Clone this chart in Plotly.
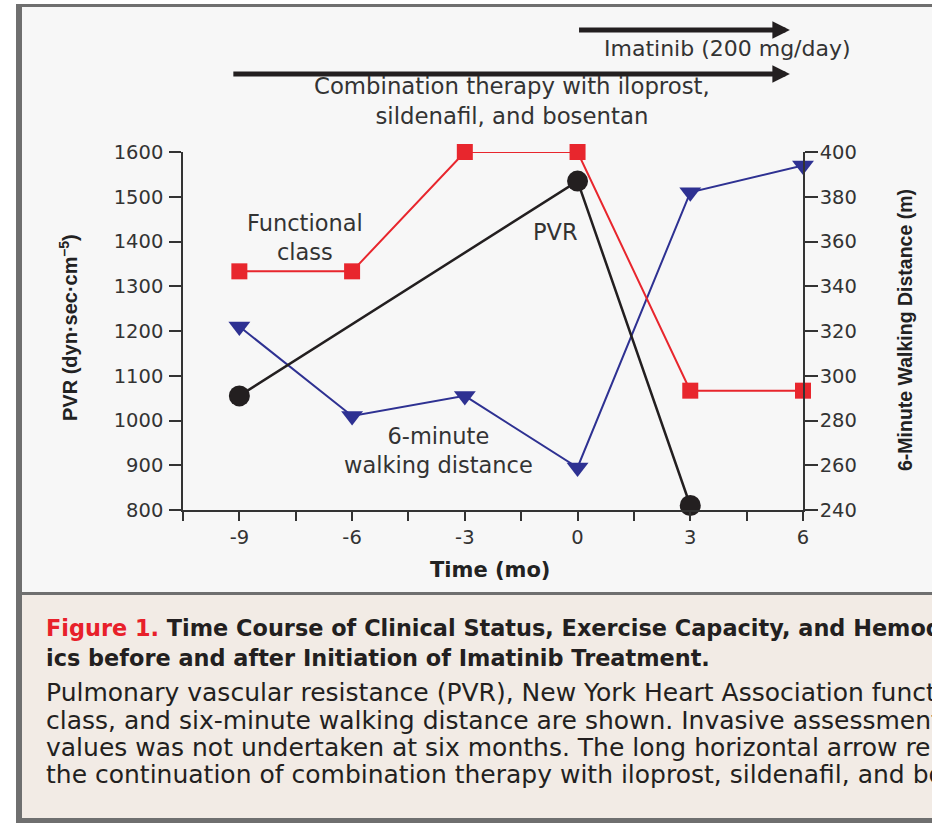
import plotly.graph_objects as go

# ---------------- data ----------------
pvr_time = [-9, 0, 3]
pvr_values = [1055, 1535, 810]                     # dyn·sec·cm^-5

fc_time = [-9, -6, -3, 0, 3, 6]
fc_values = [3, 3, 4, 4, 2, 2]                     # NYHA functional class

walk_time = [-9, -6, -3, 0, 3, 6]
walk_values = [322, 282, 291, 259, 382, 394]       # metres

x_tickvals = [-9, -6, -3, 0, 3, 6]
x_ticktext = ["-9", "-6", "-3", "0", "3", "6"]

combination_start = -9.2
imatinib_start = 0
therapy_arrow_end = 5.65

# ---------------- styling ----------------
W, H = 932, 826
L, R, T, B = 183, 129, 152, 316
PW, PH = W - L - R, H - T - B

def px(xp):
    return (xp - L) / PW

def py(yp):
    return (H - B - yp) / PH

AX = "#333333"
RED = "#e8262d"
BLK = "#231f20"
BLUE = "#2e3192"
FONT = "DejaVu Sans"
NARROW = "Liberation Sans, Arial"

fig = go.Figure()

fig.add_trace(go.Scatter(
    x=walk_time, y=walk_values, yaxis="y", mode="lines+markers",
    line=dict(color=BLUE, width=2),
    marker=dict(symbol="triangle-down", size=19, color=BLUE),
    cliponaxis=False, showlegend=False, name="6-minute walking distance"))

fig.add_trace(go.Scatter(
    x=pvr_time, y=pvr_values, yaxis="y2", mode="lines+markers",
    line=dict(color=BLK, width=2.5),
    marker=dict(symbol="circle", size=21, color=BLK),
    cliponaxis=False, showlegend=False, name="PVR"))

fig.add_trace(go.Scatter(
    x=fc_time, y=fc_values, yaxis="y3", mode="lines+markers",
    line=dict(color=RED, width=2),
    marker=dict(symbol="square", size=16, color=RED),
    cliponaxis=False, showlegend=False, name="Functional class"))

def axis_common(ticklen, standoff):
    return dict(showline=True, linecolor=AX, linewidth=1.5, ticks="outside",
                ticklen=ticklen, tickwidth=1.5, tickcolor=AX, showgrid=False,
                zeroline=False, ticklabelstandoff=standoff,
                tickfont=dict(family=FONT, size=19.5, color=AX))

fig.update_layout(
    width=W, height=H, autosize=False,
    margin=dict(l=L, r=R, t=T, b=B, pad=0),
    paper_bgcolor="white", plot_bgcolor="rgba(0,0,0,0)",
    xaxis=dict(range=[-10.5, 6], tickvals=x_tickvals, ticktext=x_ticktext,
               minor=dict(dtick=1.5, tick0=-9, ticks="outside", ticklen=9,
                          tickwidth=1.5, tickcolor=AX),
               **axis_common(9, 0)),
    yaxis=dict(range=[240, 400], dtick=20, side="right", **axis_common(13, -2)),
    yaxis2=dict(range=[800, 1600], dtick=100, side="left", overlaying="y",
                **axis_common(12, 2)),
    yaxis3=dict(range=[1, 4], overlaying="y", visible=False),
)

# background frame
shapes = [
    dict(type="rect", xref="paper", yref="paper", x0=px(16), x1=px(945),
         y0=py(823), y1=py(4), fillcolor="#6f6f6f", line=dict(width=0), layer="below"),
    dict(type="rect", xref="paper", yref="paper", x0=px(22), x1=px(945),
         y0=py(592), y1=py(7), fillcolor="#f7f7f7", line=dict(width=0), layer="below"),
    dict(type="rect", xref="paper", yref="paper", x0=px(22), x1=px(945),
         y0=py(818), y1=py(595), fillcolor="#f2ebe5", line=dict(width=0), layer="below"),
]
fig.update_layout(shapes=shapes)

ann = []

def label(xp, yp, text, font, **kw):
    d = dict(x=px(xp), y=py(yp), xref="paper", yref="paper", showarrow=False,
             xanchor="center", yanchor="middle", text=text, font=font)
    d.update(kw)
    ann.append(d)

# therapy arrows
for start, ypix in [(imatinib_start, 30), (combination_start, 74)]:
    ann.append(dict(x=therapy_arrow_end, y=py(ypix), xref="x", yref="paper",
                    ax=start, ay=0, axref="x", ayref="pixel",
                    showarrow=True, arrowhead=2, arrowsize=0.7, arrowwidth=5,
                    arrowcolor=BLK, text=""))

top_font = dict(family=FONT, size=22.8, color="#333")
label(727, 48, "Imatinib (200 mg/day)", dict(family=FONT, size=22, color="#333"))
label(512, 101, "Combination therapy with iloprost,<br>sildenafil, and bosentan", top_font)

# series labels
ser_font = dict(family=FONT, size=22.5, color="#333")
label(305, 237, "Functional<br>class", ser_font)
label(555, 232, "PVR", ser_font)
label(438, 450, "6-minute<br>walking distance", ser_font)

# axis titles
ttl = dict(family=NARROW, size=20, color="#222", weight="bold")
label(68, 328, "PVR (dyn·sec·cm<sup>–5</sup>)", ttl, textangle=-90)
label(905, 330, "6-Minute Walking Distance (m)",
      dict(family=NARROW, size=19.5, color="#222", weight="bold"), textangle=-90)
label(490, 570, "Time (mo)", dict(family=FONT, size=21, color="#222", weight="bold"))

# caption
cap_lines = [
    ("<span style='color:#e8202a'>Figure 1.</span> Time Course of Clinical Status, Exercise Capacity, and Hemodynam-", 628, True),
    ("ics before and after Initiation of Imatinib Treatment.", 658, True),
    ("Pulmonary vascular resistance (PVR), New York Heart Association functional", 692, False),
    ("class, and six-minute walking distance are shown. Invasive assessment of", 720, False),
    ("values was not undertaken at six months. The long horizontal arrow represents", 747, False),
    ("the continuation of combination therapy with iloprost, sildenafil, and bosentan.", 774, False),
]
for t, yy, bold in cap_lines:
    label(44, yy, t, dict(family=FONT, size=22.4 if bold else 25, color="#231f20",
                          weight="bold" if bold else "normal"),
          xanchor="left", align="left")
fig.update_layout(annotations=ann)

fig.write_html("out.html")
